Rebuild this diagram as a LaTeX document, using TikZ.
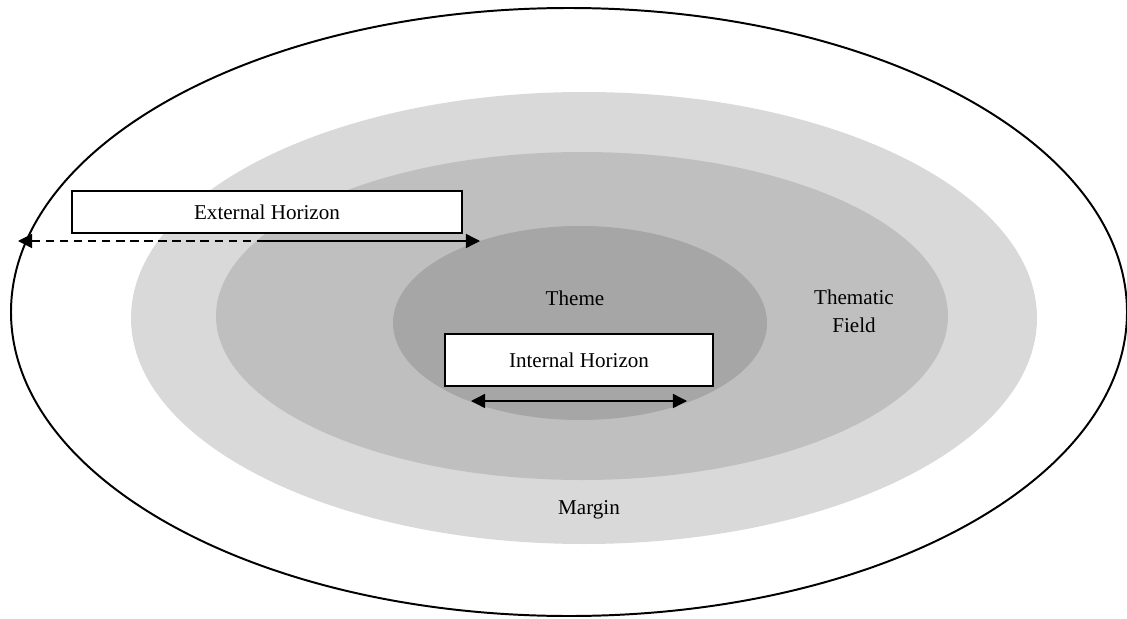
\documentclass[tikz,border=0pt]{standalone}
\usepackage{fontspec}
\setmainfont{Liberation Serif}
\usetikzlibrary{arrows.meta}
\definecolor{margingrey}{HTML}{D9D9D9}
\definecolor{fieldgrey}{HTML}{BFBFBF}
\definecolor{themegrey}{HTML}{A6A6A6}

\begin{document}
\begin{tikzpicture}[x=0.025cm,y=-0.025cm]
\tikzstyle{every node}=[font=\fontsize{15}{20}\selectfont]
\tikzstyle{horizon}=[draw,fill=white,line width=1.2pt,inner sep=0pt]
\tikzstyle{tip}=[line width=1pt,>={Triangle[length=10pt,width=10pt]}]
\useasboundingbox (0,0) rectangle (1127,619);

% regions
\draw[line width=1.4pt] (569,312) ellipse [x radius=558, y radius=304];
\fill[margingrey] (584,318) ellipse [x radius=453, y radius=226];
\fill[fieldgrey] (582,316) ellipse [x radius=366, y radius=164];
\fill[themegrey] (580,323) ellipse [x radius=187, y radius=97];

\node (theme) at (575,298) {Theme};
\node[align=center] (field) at (854,311) {Thematic\\Field};
\node (margin) at (589,510) {Margin};

% horizons
\node[horizon,minimum width=9.75cm,minimum height=1.05cm] (external) at (267,212) {External Horizon};
\node[horizon,minimum width=6.7cm,minimum height=1.3cm] (internal) at (579,360) {Internal Horizon};

\coordinate (extL) at (18,241);
\coordinate (extM) at (262,241);
\coordinate (extR) at (480,241);
\draw[tip,dashed,dash pattern=on 6pt off 4pt,<-] (extL) -- (extM);
\draw[tip,->] (extM) -- (extR);

\coordinate (intL) at (471,401);
\coordinate (intR) at (687,401);
\draw[tip,<->] (intL) -- (intR);
\end{tikzpicture}
\end{document}
